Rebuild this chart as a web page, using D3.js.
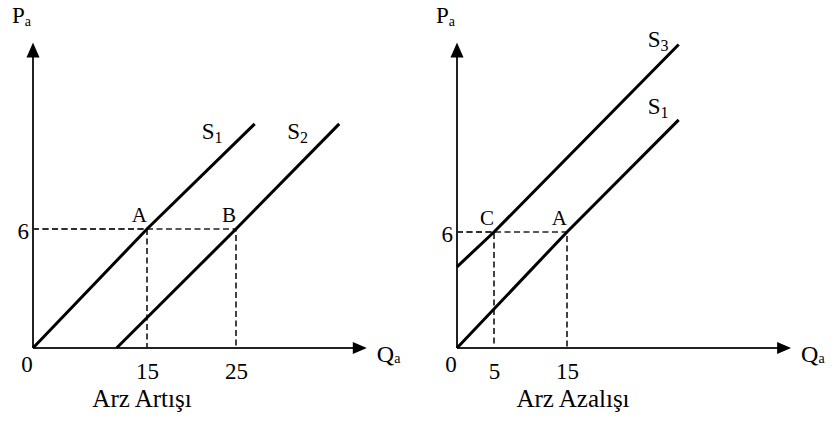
<!DOCTYPE html>
<html>
<head>
<meta charset="utf-8">
<script src="https://cdn.jsdelivr.net/npm/d3@7/dist/d3.min.js"></script>
<style>
  html, body { margin: 0; padding: 0; background: #fff; }
  svg { display: block; }
  text { font-family: "Liberation Serif", "Times New Roman", serif; fill: #000; }
</style>
</head>
<body>
<svg id="chart" width="836" height="421"></svg>
<script>
// Two supply-shift diagrams: increase (left) and decrease (right) of supply.

// Shared equilibrium price.
var priceTicks = [6];

// Left panel: supply increase S1 -> S2.
var qTicksLeft = [15, 25];
var s1Left = [[0, 0], [15, 6], [27.1, 11.3]];
var s2Left = [[11, 0], [25, 6], [36.6, 11.3]];
var pointsLeft = [{ name: 'A', q: 15, p: 6 }, { name: 'B', q: 25, p: 6 }];

// Right panel: supply decrease S1 -> S3.
var qTicksRight = [5, 15];
var s3Right = [[0, 4.2], [5, 6], [30.3, 15.7]];
var s1Right = [[0, 0], [15, 6], [30.3, 11.8]];
var pointsRight = [{ name: 'C', q: 5, p: 6 }, { name: 'A', q: 15, p: 6 }];

var captions = ['Arz Artışı', 'Arz Azalışı'];
var qMax = [39.7, 45.7];
var pMax = [15.4, 15.8];

var svg = d3.select('#chart');

// The diagrams are schematic, so the quantity axis is piecewise.
var panels = [
  {
    x: d3.scaleLinear().domain([0, 15, 25]).range([33, 147, 236]),
    y: d3.scaleLinear().domain([0, 6]).range([348, 229]),
    qTicks: qTicksLeft,
    points: pointsLeft,
    curves: [
      { name: 'S', sub: '1', data: s1Left, dx: -53, dy: 15 },
      { name: 'S', sub: '2', data: s2Left, dx: -52, dy: 15 }
    ],
    caption: captions[0], captionX: 142,
    qMax: qMax[0], pMax: pMax[0]
  },
  {
    x: d3.scaleLinear().domain([0, 5, 15]).range([457, 494, 567]),
    y: d3.scaleLinear().domain([0, 6]).range([348, 232]),
    qTicks: qTicksRight,
    points: pointsRight,
    curves: [
      { name: 'S', sub: '3', data: s3Right, dx: -31, dy: 3 },
      { name: 'S', sub: '1', data: s1Right, dx: -31, dy: -6 }
    ],
    caption: captions[1], captionX: 573,
    qMax: qMax[1], pMax: pMax[1]
  }
];

var line = d3.line();

panels.forEach(function(pn) {
  var g = svg.append('g');
  var x0 = pn.x(0), y0 = pn.y(0);
  var xEnd = pn.x(pn.qMax), yEnd = pn.y(pn.pMax);

  // Dashed guides from each equilibrium point to both axes.
  pn.points.forEach(function(d) {
    var px = pn.x(d.q), py = pn.y(d.p);
    g.append('path')
      .attr('d', 'M' + x0 + ',' + py + 'H' + px + 'V' + y0)
      .attr('fill', 'none')
      .attr('stroke', '#222')
      .attr('stroke-width', 1.7)
      .attr('stroke-dasharray', '6,3.5');
    g.append('text')
      .attr('x', px)
      .attr('y', py - 7)
      .attr('text-anchor', 'end')
      .attr('font-size', 21)
      .text(d.name);
  });

  // Axes with arrow heads.
  g.append('line')
    .attr('x1', x0).attr('y1', y0).attr('x2', x0).attr('y2', yEnd + 10)
    .attr('stroke', '#222').attr('stroke-width', 2);
  g.append('line')
    .attr('x1', x0).attr('y1', y0).attr('x2', xEnd - 10).attr('y2', y0)
    .attr('stroke', '#222').attr('stroke-width', 2);
  g.append('path')
    .attr('d', 'M' + x0 + ',' + yEnd + 'L' + (x0 + 6.5) + ',' + (yEnd + 15) + 'L' + (x0 - 6.5) + ',' + (yEnd + 15) + 'Z')
    .attr('fill', '#000');
  g.append('path')
    .attr('d', 'M' + xEnd + ',' + y0 + 'L' + (xEnd - 14) + ',' + (y0 - 6) + 'L' + (xEnd - 14) + ',' + (y0 + 6) + 'Z')
    .attr('fill', '#000');

  // Supply curves.
  pn.curves.forEach(function(c) {
    var pts = c.data.map(function(d) { return [pn.x(d[0]), pn.y(d[1])]; });
    g.append('path')
      .attr('d', line(pts))
      .attr('fill', 'none')
      .attr('stroke', '#000')
      .attr('stroke-width', 3);
    var last = pts[pts.length - 1];
    var t = g.append('text')
      .attr('x', last[0] + c.dx)
      .attr('y', last[1] + c.dy)
      .attr('font-size', 23);
    t.append('tspan').text(c.name);
    t.append('tspan').attr('font-size', 16).attr('dy', 4).text(c.sub);
  });

  // Tick labels through d3 axes, tick lines hidden.
  var xAxis = g.append('g')
    .attr('transform', 'translate(0,' + y0 + ')')
    .call(d3.axisBottom(pn.x).tickValues(pn.qTicks).tickFormat(d3.format('d')).tickSize(0).tickPadding(15));
  var yAxis = g.append('g')
    .attr('transform', 'translate(' + x0 + ',0)')
    .call(d3.axisLeft(pn.y).tickValues(priceTicks).tickFormat(d3.format('d')).tickSize(0).tickPadding(4));
  [xAxis, yAxis].forEach(function(a) {
    a.select('.domain').remove();
    a.selectAll('text')
      .attr('font-family', null)
      .attr('fill', '#000')
      .attr('font-size', 23);
  });
  yAxis.selectAll('text').attr('dy', '0.4em');

  // Origin label.
  g.append('text')
    .attr('x', x0 - 6)
    .attr('y', y0 + 24)
    .attr('text-anchor', 'middle')
    .attr('font-size', 23)
    .text('0');

  // Axis titles.
  var pt = g.append('text').attr('x', x0 - 21).attr('y', 23).attr('font-size', 23);
  pt.append('tspan').text('P');
  pt.append('tspan').attr('font-size', 14).attr('dy', 3).text('a');
  var qt = g.append('text').attr('x', xEnd + 10).attr('y', y0 + 14).attr('font-size', 24);
  qt.append('tspan').text('Q');
  qt.append('tspan').attr('font-size', 14).attr('dy', 1).text('a');

  // Caption.
  g.append('text')
    .attr('x', pn.captionX)
    .attr('y', 407)
    .attr('text-anchor', 'middle')
    .attr('font-size', 25)
    .text(pn.caption);
});
</script>
</body>
</html>
